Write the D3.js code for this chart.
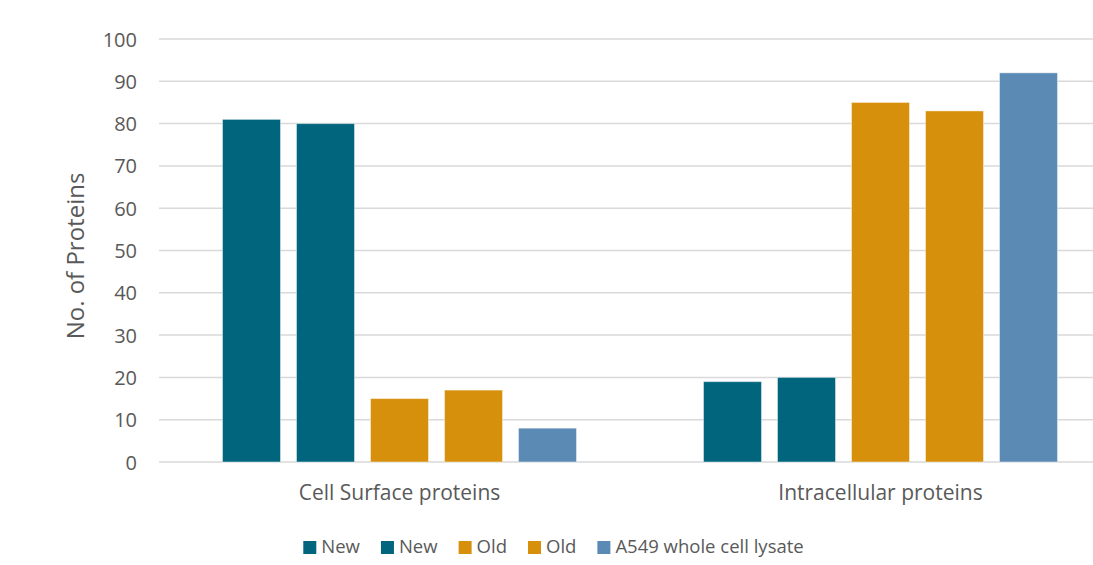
<!DOCTYPE html>
<html>
<head>
<meta charset="utf-8">
<script src="https://cdn.jsdelivr.net/npm/d3@7"></script>
<style>
  body { margin: 0; background: #fff; }
  text { font-family: "Open Sans", "Noto Sans", sans-serif; fill: #595959; }
</style>
</head>
<body>
<svg id="chart" width="1093" height="565"></svg>
<script>
const categories = ["Cell Surface proteins", "Intracellular proteins"];
const seriesNames = ["New", "New", "Old", "Old", "A549 whole cell lysate"];
const seriesColors = ["#02657e", "#02657e", "#d6900c", "#d6900c", "#5b8ab5"];
const values = [
  [81, 19],
  [80, 20],
  [15, 85],
  [17, 83],
  [8, 92]
];
const yTicks = [0, 10, 20, 30, 40, 50, 60, 70, 80, 90, 100];

const svg = d3.select("#chart");
const plot = { left: 159, right: 1121, top: 39, bottom: 462 };

const x0 = d3.scaleBand().domain(categories).range([plot.left, plot.right]).paddingInner(0).paddingOuter(0);
const x1 = d3.scaleBand().domain(d3.range(seriesNames.length))
  .range([0, x0.bandwidth()]).paddingInner(0.216).paddingOuter(0.858);
const y = d3.scaleLinear().domain([0, 100]).range([plot.bottom, plot.top]);

// gridlines
svg.append("g").selectAll("line").data(yTicks).join("line")
  .attr("x1", plot.left).attr("x2", plot.right)
  .attr("y1", d => y(d)).attr("y2", d => y(d))
  .attr("stroke", "#d9d9d9").attr("stroke-width", 1.5);

// y axis labels
const yAxis = svg.append("g").attr("transform", `translate(${plot.left - 22},0)`)
  .call(d3.axisLeft(y).tickValues(yTicks).tickSize(0).tickPadding(0));
yAxis.select(".domain").remove();
yAxis.selectAll("text").style("font-size", "20px").style("fill", "#595959")
  .style("font-family", "'Open Sans', sans-serif").attr("dy", "0.35em");

// bars
const groups = svg.append("g").selectAll("g").data(categories).join("g")
  .attr("transform", d => `translate(${x0(d)},0)`);
groups.selectAll("rect")
  .data((c, ci) => values.map((s, si) => ({ si, v: s[ci] })))
  .join("rect")
  .attr("x", d => x1(d.si))
  .attr("width", x1.bandwidth())
  .attr("y", d => y(d.v))
  .attr("height", d => y(0) - y(d.v))
  .attr("fill", d => seriesColors[d.si])
  .attr("stroke", "rgba(255,255,255,0.45)")
  .attr("stroke-width", 1);

// category labels
svg.append("g").selectAll("text").data(categories).join("text")
  .attr("x", d => x0(d) + x0.bandwidth() / 2)
  .attr("y", 500)
  .attr("text-anchor", "middle")
  .style("font-size", "21px")
  .text(d => d);

// y title
svg.append("text")
  .attr("transform", `translate(84,256) rotate(-90)`)
  .attr("text-anchor", "middle")
  .style("font-size", "24px")
  .text("No. of Proteins");

// legend
const legend = svg.append("g");
const items = legend.selectAll("g").data(seriesNames).join("g");
items.append("rect").attr("width", 13).attr("height", 13).attr("y", -12)
  .attr("fill", (d, i) => seriesColors[i]);
items.append("text").attr("x", 18).attr("y", 0).style("font-size", "18.5px").text(d => d);
let cx = 0;
items.each(function () {
  const w = d3.select(this).select("text").node().getComputedTextLength();
  d3.select(this).attr("transform", `translate(${cx},0)`);
  cx += 18 + w + 21;
});
const total = cx - 21;
legend.attr("transform", `translate(${553.5 - total / 2},553)`);
</script>
</body>
</html>
